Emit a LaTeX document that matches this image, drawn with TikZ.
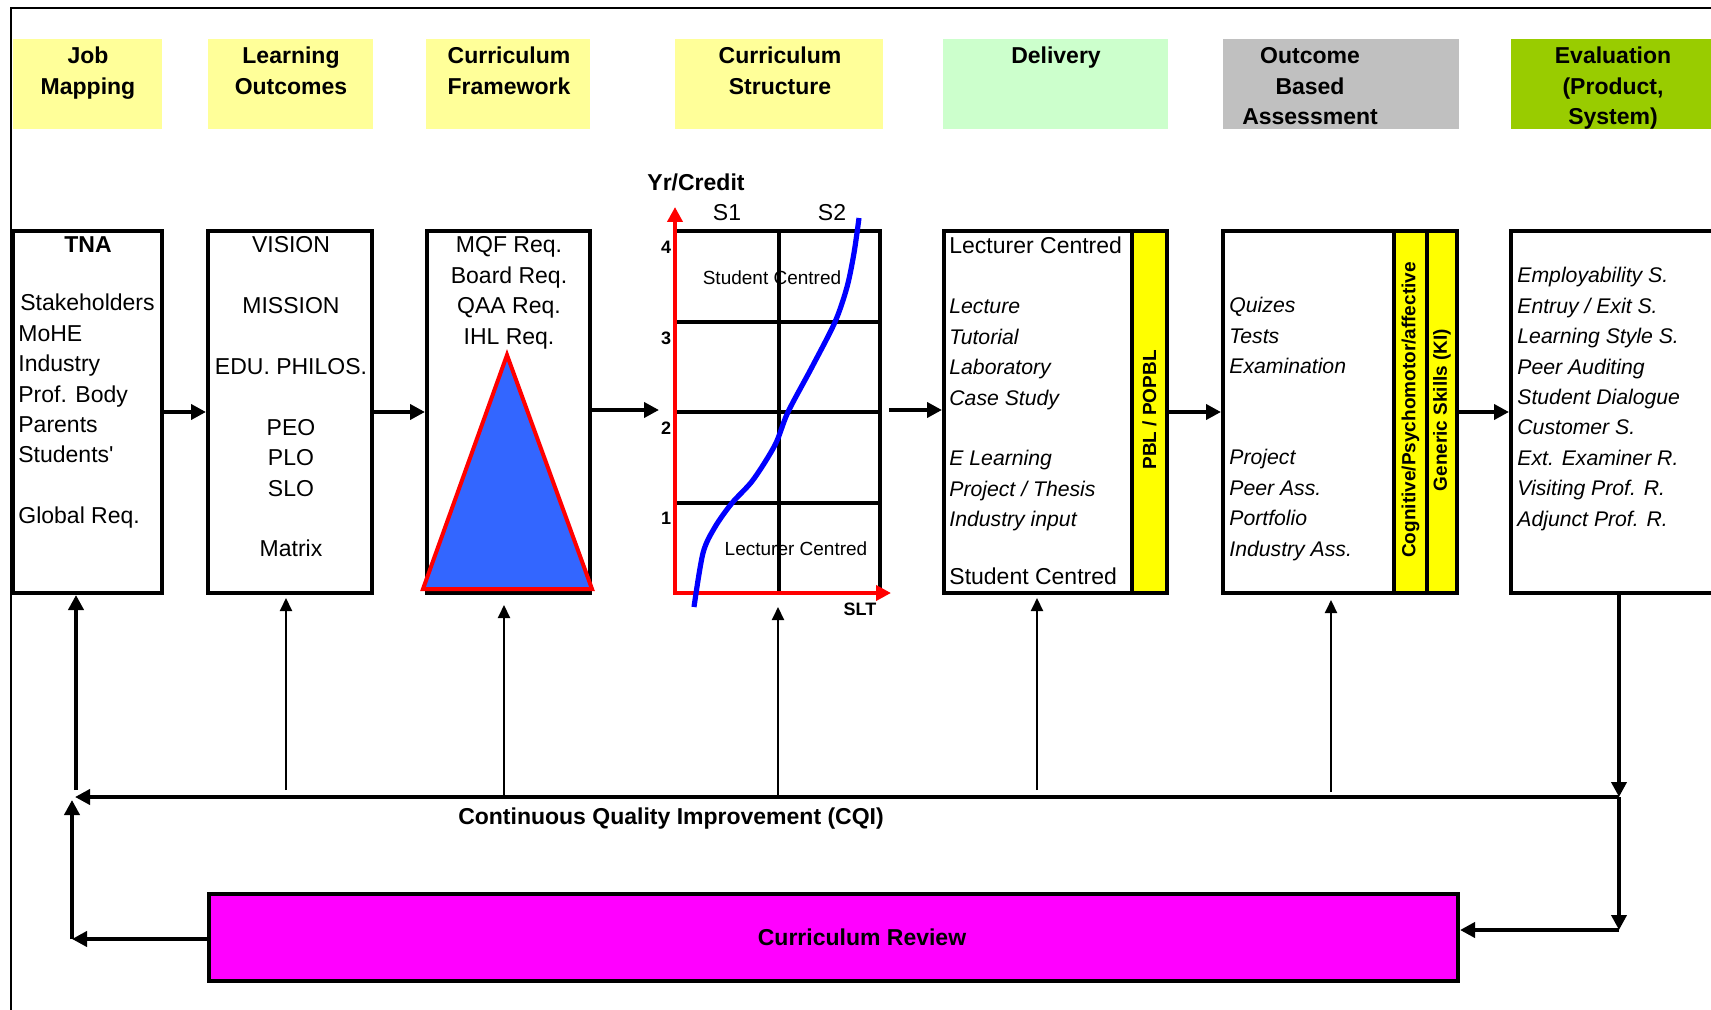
\documentclass[tikz,border=0pt]{standalone}
\usepackage{fontspec}
\setmainfont{Liberation Sans}
\usetikzlibrary{arrows.meta}
\definecolor{hdryellow}{HTML}{FFFF99}
\definecolor{hdrgreen}{HTML}{CCFFCC}
\definecolor{hdrgray}{HTML}{C0C0C0}
\definecolor{evalgreen}{HTML}{99CC00}
\definecolor{stripyellow}{HTML}{FFFF00}
\definecolor{triblue}{HTML}{3366FF}
\definecolor{reviewpink}{HTML}{FF00FF}
\newcommand{\cellrows}[2]{\begin{tabular}[t]{@{}#1@{}}#2\end{tabular}}
\tikzset{
  box/.style={draw, line width=2pt, inner sep=0pt, minimum height=181pt},
  hdr/.style={inner sep=0pt, minimum height=45pt},
  txt/.style={inner sep=0pt, font=\fontsize{11.5}{15.2}\selectfont},
  boldtxt/.style={inner sep=0pt, font=\fontsize{11.5}{15.2}\selectfont\bfseries},
  item/.style={inner sep=0pt, anchor=base west, font=\fontsize{10.6}{15.2}\selectfont\itshape},
  small/.style={inner sep=0pt, font=\fontsize{9.5}{11}\selectfont},
  tick/.style={inner sep=0pt, font=\fontsize{9}{11}\selectfont\bfseries},
  strip/.style={inner sep=0pt, rotate=90, font=\fontsize{9.5}{11}\selectfont\bfseries},
  flow/.style={line width=2pt, ->},
  feed/.style={line width=1pt, -{Triangle[length=6.5pt,width=6pt]}}
}
\begin{document}
\begin{tikzpicture}[x=0.5pt, y=-0.5pt, >={Triangle[length=7.5pt,width=7.5pt]}]
  \path[use as bounding box, clip] (0,0) rectangle (1711,1010);
  \draw[line width=1pt] (11,1010) -- (11,8) -- (1711,8);

  % Headers
  \node[hdr, fill=hdryellow, minimum width=74.5pt] (hJob) at (87.5,84) {};
  \node[hdr, fill=hdryellow, minimum width=82.5pt] (hLO) at (290.5,84) {};
  \node[hdr, fill=hdryellow, minimum width=82pt] (hFW) at (508,84) {};
  \node[hdr, fill=hdryellow, minimum width=104pt] (hCS) at (779,84) {};
  \node[hdr, fill=hdrgreen, minimum width=112.5pt] (hDel) at (1055.5,84) {};
  \node[hdr, fill=hdrgray, minimum width=118pt] (hOBA) at (1341,84) {};
  \node[hdr, fill=evalgreen, minimum width=105pt] (hEval) at (1615.5,84) {};
  \node[boldtxt, anchor=base] (hJobT) at (88,64) {\cellrows{c}{Job\\Mapping}};
  \node[boldtxt, anchor=base] (hLOT) at (291,64) {\cellrows{c}{Learning\\Outcomes}};
  \node[boldtxt, anchor=base] (hFWT) at (509,64) {\cellrows{c}{Curriculum\\Framework}};
  \node[boldtxt, anchor=base] (hCST) at (780,64) {\cellrows{c}{Curriculum\\Structure}};
  \node[boldtxt, anchor=base] (hDelT) at (1056,64) {Delivery};
  \node[boldtxt, anchor=base] (hOBAT) at (1310,64) {\cellrows{c}{Outcome\\Based\\Assessment}};
  \node[boldtxt, anchor=base] (hEvalT) at (1613,64) {\cellrows{c}{Evaluation\\(Product,\\System)}};

  % Boxes of the process
  \fill[stripyellow] (1132,231) rectangle (1167,593);
  \fill[stripyellow] (1394,231) rectangle (1457,593);
  \node[box, minimum width=74.5pt] (tna) at (87.5,412) {};
  \node[box, minimum width=82pt] (lo) at (290,412) {};
  \node[box, minimum width=81.5pt] (fw) at (508.5,412) {};
  \node[box, minimum width=102.5pt] (grid) at (777.5,412) {};
  \node[box, minimum width=111.5pt] (del) at (1055.5,412) {};
  \node[box, minimum width=117pt] (oba) at (1340,412) {};
  \node[box, minimum width=110pt] (eval) at (1621,412) {};
  \draw[line width=2pt] (1132,231) -- (1132,593);
  \draw[line width=2pt] (1394,231) -- (1394,593) (1427,231) -- (1427,593);

  % Curriculum structure chart
  \draw[line width=2pt] (779,231) -- (779,593);
  \foreach \y in {322,412,503}
    \draw[line width=2pt] (675,\y) -- (880,\y);
  \draw[red, line width=2pt, <->] (675,207) -- (675,593) -- (891,593);
  \draw[blue, line width=2.6pt] plot[smooth] coordinates {(694,607) (703,553) (715,527) (732,503) (753,480) (775,445) (788,412) (812,367) (835,322) (847,287) (854,253) (859,218)};
  \node[boldtxt, anchor=base] (yr) at (696,191) {Yr/Credit};
  \node[txt, anchor=base] (s1) at (727,221) {S1};
  \node[txt, anchor=base] (s2) at (832,221) {S2};
  \foreach \y/\n in {247/4, 338/3, 428/2, 518/1}
    \node[tick] (tick\n) at (666,\y) {\n};
  \node[small] (stuC) at (772,278) {Student Centred};
  \node[small] (lecC) at (796,549) {Lecturer Centred};
  \node[tick] (slt) at (860,609) {SLT};

  % Framework triangle
  \draw[red, line width=2pt, fill=triblue] (507,355) -- (592,589) -- (423,589) -- cycle;

  % Box texts
  \node[boldtxt, anchor=base] (tnaT) at (88,253) {TNA};
  \node[txt, anchor=base west] (tnaL) at (18,311) {\cellrows{l}{\hspace{1pt}Stakeholders\\MoHE\\Industry\\Prof. Body\\Parents\\Students\textquotesingle\\[15.2pt]Global Req.}};
  \node[txt, anchor=base] (loL) at (291,253) {\cellrows{c}{VISION\\[15.2pt]MISSION\\[15.2pt]EDU. PHILOS.\\[15.2pt]PEO\\PLO\\SLO\\[15.2pt]Matrix}};
  \node[txt, anchor=base] (fwL) at (509,253) {\cellrows{c}{MQF Req.\\Board Req.\\QAA Req.\\IHL Req.}};
  \node[txt, anchor=base west] (delTop) at (949,254) {Lecturer Centred};
  \node[item] (delL) at (949,314) {\cellrows{l}{Lecture\\Tutorial\\Laboratory\\Case Study\\[15.2pt]E Learning\\Project / Thesis\\Industry input}};
  \node[txt, anchor=base west] (delBot) at (949,584) {Student Centred};
  \node[strip] (pbl) at (1149.5,410) {PBL / POPBL};
  \node[item] (obaL) at (1229,313) {\cellrows{l}{Quizes\\Tests\\Examination\\[30.4pt]Project\\Peer Ass.\\Portfolio\\Industry Ass.}};
  \node[strip] (cog) at (1410.5,410) {Cognitive/Psychomotor/affective};
  \node[strip] (gen) at (1442,410) {Generic Skills (KI)};
  \node[item] (evalL) at (1517,283) {\cellrows{l}{Employability S.\\Entruy / Exit S.\\Learning Style S.\\Peer Auditing\\Student Dialogue\\Customer S.\\Ext. Examiner R.\\Visiting Prof. R.\\Adjunct Prof. R.}};

  % Main flow
  \coordinate (csIn) at (659,410);
  \coordinate (csOut) at (889,410);
  \draw[flow] (tna.east) -- (lo.west);
  \draw[flow] (lo.east) -- (fw.west);
  \draw[flow] (fw.east |- csIn) -- (csIn);
  \draw[flow] (csOut) -- (csOut -| del.west);
  \draw[flow] (del.east) -- (oba.west);
  \draw[flow] (oba.east) -- (eval.west);

  % Review loop
  \node[box, minimum width=624.5pt, minimum height=43.5pt, fill=reviewpink] (review) at (833.5,937.5) {};
  \node[boldtxt] (reviewT) at (862,937) {Curriculum Review};
  \node[boldtxt, anchor=base] (cqiT) at (671,824) {Continuous Quality Improvement (CQI)};
  \coordinate (cqiR) at (1619,797);
  \coordinate (cqiL) at (75,797);
  \coordinate (revR) at (1619,930);
  \coordinate (revL) at (72,939);
  \draw[flow] (cqiR |- eval.south) -- (cqiR);
  \draw[flow] (cqiR) -- (revR);
  \draw[flow] (revR) -- (revR -| review.east);
  \draw[flow] (cqiR) -- (cqiL);
  \draw[flow] (review.west |- revL) -- (revL);
  \draw[flow, shorten >=1.5pt] (revL) -- (revL |- cqiL);

  % Feedback to each stage
  \coordinate (upTna) at (76,790);
  \coordinate (upLO) at (286,790);
  \coordinate (upFW) at (504,797);
  \coordinate (upCS) at (778,797);
  \coordinate (upDel) at (1037,790);
  \coordinate (upOBA) at (1331,792);
  \draw[flow] (upTna) -- (upTna |- tna.south);
  \draw[feed, shorten >=1.5pt] (upLO) -- (upLO |- lo.south);
  \draw[feed, shorten >=5pt] (upFW) -- (upFW |- fw.south);
  \draw[feed, shorten >=6pt] (upCS) -- (upCS |- grid.south);
  \draw[feed, shorten >=1.5pt] (upDel) -- (upDel |- del.south);
  \draw[feed, shorten >=2.5pt] (upOBA) -- (upOBA |- oba.south);
\end{tikzpicture}
\end{document}
